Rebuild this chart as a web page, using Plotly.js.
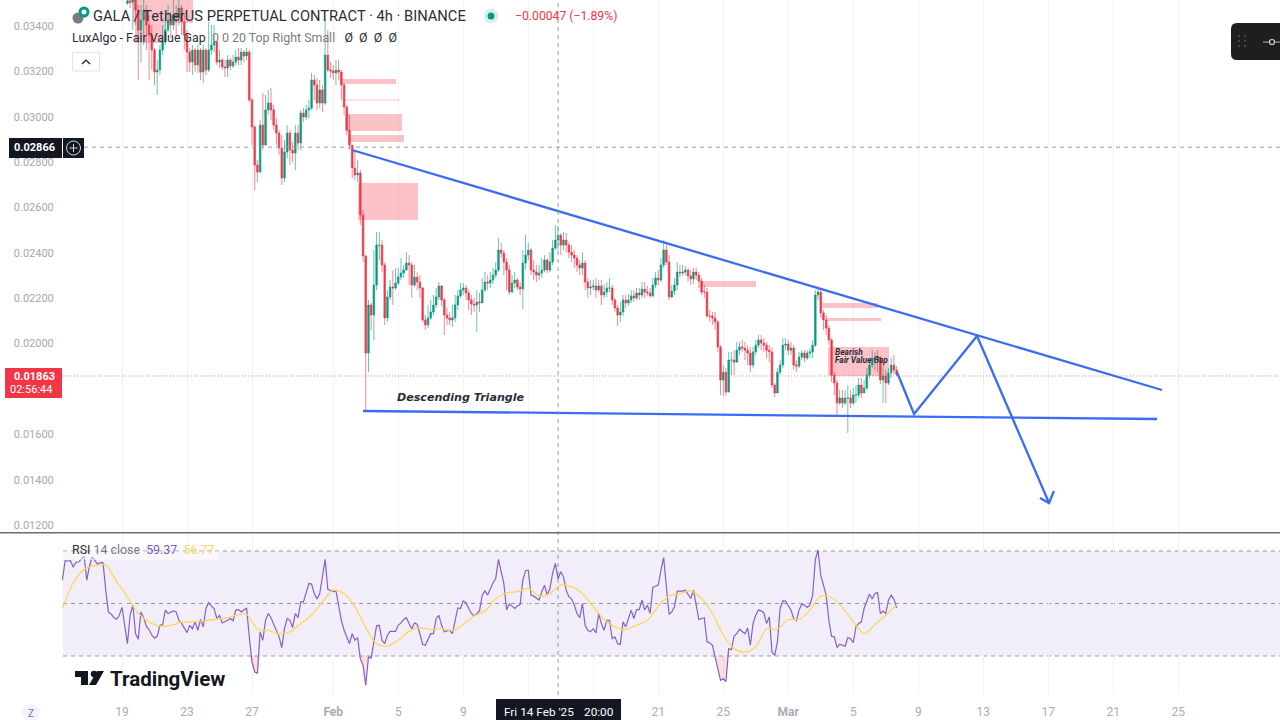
<!DOCTYPE html>
<html>
<head>
<meta charset="utf-8">
<script src="https://cdn.plot.ly/plotly-3.0.1.min.js"></script>
<style>html,body{margin:0;padding:0;background:#fff;overflow:hidden}#chart{width:1280px;height:720px}</style>
</head>
<body>
<div id="chart"></div>
<script>
// ---------- candles: 4h bars from 2025-01-19 08:00 ----------
const candleStart = '2025-01-19T08:00:00Z';
const firstOpen = 0.03500;
const closes = [0.03510,0.03506,0.03537,0.03470,0.03382,0.03426,0.03470,0.03404,0.03360,0.03294,0.03197,0.03206,0.03294,0.03329,0.03382,0.03426,0.03404,0.03448,0.03435,0.03479,0.03418,0.03360,0.03285,0.03241,0.03294,0.03228,0.03294,0.03197,0.03294,0.03206,0.03294,0.03316,0.03329,0.03241,0.03250,0.03219,0.03215,0.03250,0.03224,0.03241,0.03263,0.03250,0.03285,0.03268,0.03285,0.03074,0.02955,0.02787,0.02756,0.02963,0.02875,0.03030,0.03060,0.03030,0.02963,0.02928,0.02862,0.02730,0.02844,0.02928,0.02853,0.02840,0.02928,0.02884,0.03016,0.02999,0.03030,0.03038,0.03162,0.03140,0.03060,0.03118,0.03060,0.03272,0.03206,0.03202,0.03193,0.03206,0.03197,0.03140,0.03043,0.02941,0.02875,0.02774,0.02743,0.02752,0.02567,0.02386,0.01958,0.02170,0.02126,0.02258,0.02434,0.02434,0.02346,0.02113,0.02205,0.02249,0.02245,0.02267,0.02293,0.02311,0.02324,0.02355,0.02346,0.02258,0.02293,0.02271,0.02245,0.02104,0.02082,0.02113,0.02139,0.02170,0.02205,0.02254,0.02192,0.02126,0.02113,0.02104,0.02113,0.02170,0.02210,0.02236,0.02245,0.02223,0.02192,0.02174,0.02170,0.02183,0.02179,0.02236,0.02271,0.02267,0.02280,0.02302,0.02324,0.02412,0.02399,0.02359,0.02324,0.02227,0.02267,0.02280,0.02249,0.02240,0.02355,0.02390,0.02412,0.02324,0.02315,0.02302,0.02311,0.02324,0.02368,0.02324,0.02359,0.02421,0.02456,0.02478,0.02434,0.02456,0.02434,0.02403,0.02390,0.02377,0.02346,0.02333,0.02355,0.02271,0.02245,0.02249,0.02254,0.02236,0.02254,0.02214,0.02227,0.02245,0.02245,0.02192,0.02157,0.02126,0.02139,0.02192,0.02179,0.02192,0.02210,0.02201,0.02223,0.02214,0.02240,0.02227,0.02223,0.02210,0.02258,0.02289,0.02280,0.02346,0.02412,0.02359,0.02205,0.02232,0.02258,0.02315,0.02311,0.02315,0.02324,0.02298,0.02285,0.02315,0.02302,0.02276,0.02227,0.02227,0.02121,0.02121,0.02113,0.02095,0.01985,0.01839,0.01874,0.01786,0.01927,0.01927,0.01918,0.01971,0.01985,0.01980,0.01971,0.01958,0.01905,0.01963,0.01993,0.02016,0.02002,0.01993,0.01971,0.01963,0.01817,0.01782,0.01874,0.01905,0.01993,0.01998,0.01971,0.01980,0.01905,0.01901,0.01941,0.01958,0.01936,0.01958,0.01963,0.01993,0.02214,0.02227,0.02135,0.02104,0.02068,0.02016,0.01861,0.01826,0.01738,0.01760,0.01738,0.01760,0.01760,0.01738,0.01773,0.01773,0.01817,0.01782,0.01804,0.01861,0.01905,0.01936,0.01927,0.01941,0.01839,0.01857,0.01826,0.01870,0.01905,0.01883,0.01863];
const highs = [0.03537,0.03550,0.03568,0.03528,0.03493,0.03493,0.03528,0.03493,0.03448,0.03404,0.03303,0.03250,0.03316,0.03404,0.03448,0.03493,0.03462,0.03515,0.03493,0.03528,0.03493,0.03448,0.03382,0.03303,0.03316,0.03303,0.03316,0.03303,0.03316,0.03303,0.03418,0.03404,0.03404,0.03316,0.03294,0.03259,0.03250,0.03272,0.03259,0.03272,0.03294,0.03303,0.03303,0.03294,0.03303,0.03294,0.03082,0.02963,0.02809,0.02986,0.03105,0.03096,0.03118,0.03127,0.03052,0.02994,0.02941,0.02919,0.02897,0.02963,0.02941,0.02888,0.02963,0.02963,0.03030,0.03038,0.03052,0.03074,0.03193,0.03184,0.03171,0.03162,0.03140,0.03435,0.03382,0.03241,0.03228,0.03250,0.03250,0.03206,0.03149,0.03052,0.03008,0.02875,0.02853,0.02809,0.02765,0.02589,0.02390,0.02192,0.02179,0.02412,0.02492,0.02492,0.02456,0.02359,0.02236,0.02280,0.02324,0.02333,0.02333,0.02377,0.02346,0.02403,0.02390,0.02359,0.02346,0.02315,0.02302,0.02249,0.02126,0.02170,0.02192,0.02214,0.02245,0.02271,0.02258,0.02201,0.02157,0.02139,0.02170,0.02214,0.02236,0.02267,0.02267,0.02258,0.02236,0.02214,0.02201,0.02236,0.02223,0.02289,0.02315,0.02302,0.02315,0.02333,0.02359,0.02465,0.02443,0.02412,0.02377,0.02346,0.02302,0.02315,0.02289,0.02271,0.02412,0.02478,0.02443,0.02421,0.02368,0.02346,0.02346,0.02377,0.02390,0.02377,0.02403,0.02456,0.02523,0.02518,0.02487,0.02492,0.02487,0.02447,0.02434,0.02412,0.02390,0.02368,0.02403,0.02368,0.02289,0.02280,0.02280,0.02289,0.02280,0.02280,0.02262,0.02271,0.02289,0.02258,0.02201,0.02170,0.02183,0.02214,0.02214,0.02218,0.02236,0.02236,0.02245,0.02245,0.02271,0.02271,0.02254,0.02245,0.02289,0.02315,0.02324,0.02377,0.02456,0.02434,0.02390,0.02258,0.02289,0.02359,0.02346,0.02346,0.02342,0.02333,0.02324,0.02333,0.02333,0.02315,0.02289,0.02258,0.02245,0.02148,0.02139,0.02139,0.02104,0.01993,0.01905,0.01892,0.01963,0.01963,0.01971,0.02007,0.02007,0.02016,0.02007,0.01993,0.01985,0.01985,0.02016,0.02038,0.02038,0.02024,0.02007,0.01993,0.01985,0.01826,0.01892,0.01927,0.02024,0.02024,0.02016,0.02007,0.01993,0.01927,0.01963,0.01971,0.01971,0.01971,0.01980,0.02016,0.02236,0.02249,0.02236,0.02148,0.02126,0.02082,0.02024,0.01874,0.01839,0.01795,0.01795,0.01795,0.01817,0.01795,0.01804,0.01817,0.01848,0.01848,0.01839,0.01892,0.01936,0.01971,0.01963,0.01971,0.01936,0.01905,0.01883,0.01892,0.01936,0.01949,0.01901];
const lows = [0.03493,0.03479,0.03382,0.03404,0.03162,0.03237,0.03316,0.03294,0.03162,0.03206,0.03140,0.03096,0.03184,0.03272,0.03316,0.03373,0.03347,0.03382,0.03360,0.03404,0.03360,0.03294,0.03197,0.03197,0.03184,0.03197,0.03193,0.03162,0.03149,0.03184,0.03197,0.03272,0.03285,0.03228,0.03215,0.03206,0.03175,0.03175,0.03206,0.03215,0.03228,0.03228,0.03228,0.03241,0.03250,0.03065,0.02875,0.02677,0.02712,0.02752,0.02853,0.02875,0.03008,0.02986,0.02941,0.02875,0.02831,0.02699,0.02712,0.02818,0.02787,0.02800,0.02765,0.02853,0.02853,0.02977,0.02986,0.02994,0.03030,0.03074,0.03030,0.03038,0.03021,0.03052,0.03197,0.03171,0.03162,0.03140,0.03162,0.03074,0.03008,0.02919,0.02853,0.02730,0.02721,0.02712,0.02523,0.02359,0.01702,0.01874,0.02060,0.02016,0.02236,0.02368,0.02315,0.02082,0.02095,0.02192,0.02170,0.02236,0.02258,0.02280,0.02289,0.02324,0.02258,0.02201,0.02249,0.02236,0.02201,0.02095,0.02060,0.02068,0.02104,0.02126,0.02157,0.02192,0.02166,0.02038,0.02082,0.02082,0.02073,0.02095,0.02148,0.02201,0.02214,0.02192,0.02148,0.02126,0.02139,0.02051,0.02139,0.02183,0.02227,0.02236,0.02245,0.02262,0.02289,0.02315,0.02377,0.02302,0.02236,0.02214,0.02223,0.02245,0.02236,0.02214,0.02152,0.02324,0.02368,0.02302,0.02280,0.02271,0.02280,0.02289,0.02315,0.02311,0.02315,0.02346,0.02412,0.02412,0.02390,0.02412,0.02403,0.02377,0.02359,0.02333,0.02315,0.02302,0.02302,0.02236,0.02201,0.02214,0.02236,0.02201,0.02227,0.02170,0.02201,0.02205,0.02227,0.02170,0.02139,0.02077,0.02095,0.02121,0.02157,0.02166,0.02179,0.02183,0.02192,0.02192,0.02201,0.02201,0.02210,0.02201,0.02205,0.02245,0.02258,0.02271,0.02333,0.02346,0.02192,0.02201,0.02214,0.02236,0.02293,0.02298,0.02302,0.02271,0.02258,0.02262,0.02280,0.02245,0.02214,0.02201,0.02113,0.02095,0.02082,0.02060,0.01963,0.01773,0.01769,0.01769,0.01786,0.01861,0.01861,0.01936,0.01949,0.01963,0.01927,0.01905,0.01874,0.01892,0.01949,0.01980,0.01971,0.01963,0.01936,0.01918,0.01804,0.01764,0.01782,0.01861,0.01892,0.01971,0.01949,0.01949,0.01883,0.01874,0.01892,0.01927,0.01918,0.01927,0.01936,0.01936,0.01985,0.02192,0.02113,0.02060,0.02038,0.01993,0.01830,0.01773,0.01676,0.01729,0.01716,0.01729,0.01606,0.01716,0.01729,0.01738,0.01760,0.01760,0.01782,0.01795,0.01848,0.01892,0.01883,0.01874,0.01821,0.01738,0.01738,0.01817,0.01848,0.01866,0.01857];

// ---------- RSI(14) on the same 4h bars, from 2025-01-15 08:00 ----------
const rsiStart = '2025-01-15T08:00:00Z';
const rsiValues = [58.9,66.3,66.2,66.3,63.8,65.7,65.8,66.8,68.1,58.9,64.3,67.8,66.2,64.9,65.7,65.5,55.1,46.7,46.0,44.6,44.0,45.5,48.5,42.4,34.7,45.5,49.4,38.5,36.4,46.8,44.6,41.3,40.0,37.9,36.9,37.5,41.7,42.0,47.5,46.2,46.6,47.2,46.8,43.6,42.4,40.4,38.9,41.7,40.4,43.0,39.8,43.9,41.1,48.1,50.3,49.0,48.1,44.3,45.5,42.6,43.0,43.6,44.3,43.4,47.5,47.7,46.8,47.5,48.3,37.3,27.7,23.9,23.5,39.2,36.0,43.6,46.2,44.6,42.1,40.0,37.3,33.2,40.4,44.3,43.6,40.8,46.2,44.6,50.6,50.6,53.8,57.6,57.4,53.8,51.7,53.8,60.2,66.8,55.4,54.8,54.5,54.8,49.4,43.6,39.8,37.3,34.7,38.5,36.0,37.0,29.0,26.4,18.8,29.6,29.2,35.4,41.5,41.7,36.0,34.7,37.9,39.4,39.4,39.4,41.7,42.6,43.9,44.6,42.4,40.4,42.6,42.1,38.3,34.5,34.1,36.6,38.5,38.5,44.3,45.5,41.7,39.2,39.6,39.8,38.5,43.6,48.3,48.1,51.0,50.3,48.5,46.2,45.3,46.2,47.2,53.2,54.8,53.2,55.7,57.9,59.6,66.8,62.1,57.6,47.5,49.8,49.0,48.1,49.1,49.7,58.9,62.5,62.7,53.2,52.8,51.9,51.3,54.5,57.0,53.2,55.7,61.5,65.3,59.4,62.1,60.2,55.1,52.6,51.7,49.4,46.2,44.6,50.0,41.7,39.8,39.2,40.4,38.8,46.2,42.4,39.8,43.6,43.6,36.6,37.3,34.7,34.5,43.0,41.1,44.3,47.5,44.3,47.7,47.7,51.3,47.5,49.4,46.2,56.1,56.6,57.0,62.7,67.5,56.4,45.9,46.8,48.7,54.7,54.7,54.7,55.1,53.6,51.9,55.1,48.7,43.9,44.3,44.6,35.4,35.0,34.1,29.6,24.5,20.7,21.3,20.3,32.8,32.4,37.6,38.5,40.2,39.2,38.5,40.7,34.1,42.4,45.5,47.5,47.2,46.4,42.4,44.9,31.5,30.2,35.4,48.1,51.0,50.9,49.4,47.5,44.3,43.4,47.5,49.7,49.4,48.5,49.4,53.2,66.6,70.4,60.8,57.0,53.2,43.6,37.5,37.3,33.2,34.5,34.1,33.7,37.0,36.6,35.1,41.1,42.4,43.0,48.1,51.0,53.6,51.7,53.8,54.2,46.2,47.1,46.2,51.3,53.2,51.7,48.3];
// RSI moving average, read every 4th bar
const rsiMaValues = [48.1,57.9,63.0,64.5,64.6,58.3,52.6,46.2,43.0,41.3,41.7,42.9,43.0,43.4,43.9,44.4,45.5,45.9,40.3,39.8,38.5,39.2,42.4,45.5,50.6,55.1,53.8,48.7,40.8,34.7,33.8,36.0,39.5,40.7,40.1,40.4,39.7,42.0,45.2,47.1,51.7,54.1,54.5,55.7,52.9,53.8,57.0,56.4,53.8,48.7,43.9,41.1,40.1,41.7,43.6,49.0,52.9,53.8,54.8,51.9,46.2,37.9,32.8,31.5,33.4,40.4,40.2,43.9,43.9,47.5,52.8,52.3,48.5,43.0,38.5,42.0,45.5,49.4];
const rsiLevels = [70, 50, 30];

// ---------- axis labels (13, 17 and 0.01800 sit behind the cursor and price labels) ----------
const priceTicks = [0.012,0.014,0.016,0.018,0.020,0.022,0.024,0.026,0.028,0.030,0.032,0.034];
const priceTickLabels = ['0.01200','0.01400','0.01600','','0.02000','0.02200','0.02400','0.02600','0.02800','0.03000','0.03200','0.03400'];
const dateTicks = ['2025-01-19','2025-01-23','2025-01-27','2025-02-01','2025-02-05','2025-02-09','2025-02-13','2025-02-17','2025-02-21','2025-02-25','2025-03-01','2025-03-05','2025-03-09','2025-03-13','2025-03-17','2025-03-21','2025-03-25'];
const dateTickLabels = ['19','23','27','<b>Feb</b>','5','9','','','21','25','<b>Mar</b>','5','9','13','17','21','25'];

// ---------- Fair Value Gap zones ----------
const fvgFrom = ['2025-01-19T07:23','2025-01-19T16:15','2025-01-19T19:12','2025-02-01T09:58','2025-02-01T17:21','2025-02-01T17:21','2025-02-01T21:47','2025-02-02T12:33','2025-02-23T13:41','2025-03-03T01:51','2025-03-03T07:45','2025-03-03T10:42'];
const fvgTo = ['2025-01-23T08:51','2025-01-23T08:51','2025-01-21T15:30','2025-02-04T20:41','2025-02-05T01:06','2025-02-05T05:31','2025-02-05T08:30','2025-02-06T05:10','2025-02-27T00:22','2025-03-06T12:33','2025-03-06T16:59','2025-03-07T04:48'];
const fvgTop = [0.03515,0.03499,0.03413,0.03166,0.03076,0.03012,0.02919,0.02708,0.02276,0.02179,0.02113,0.01985];
const fvgBottom = [0.03499,0.03413,0.03325,0.03144,0.03071,0.02937,0.02889,0.02545,0.02249,0.02157,0.02099,0.01857];

// ---------- drawn lines ----------
const upperLineT = ['2025-02-02T03:42','2025-03-24T00:00'];
const upperLineP = [0.028533,0.017952];
const lowerLineT = ['2025-02-02T19:55','2025-03-23T16:37'];
const lowerLineP = [0.017026,0.016674];
const pathT = ['2025-03-07T16:34','2025-03-08T17:46','2025-03-12T14:46','2025-03-17T01:12'];
const pathP = [0.018746,0.016894,0.020333,0.012970];
const arrowT = ['2025-03-16T11:46','2025-03-17T01:12','2025-03-17T08:24'];
const arrowP = [0.013190,0.012970,0.013500];

const lastPriceLine = 0.01857, cursorPrice = 0.02866, cursorTime = '2025-02-14T20:00';

// ---------- helpers ----------
const series = (start, hours, n) => Array.from({length:n}, (_,i) =>
  new Date(Date.parse(start) + i*hours*3600e3).toISOString().slice(0,16));
const W = 1218, H = 695, L = 62;
const X = px => (px - L) / W, Y = py => 1 - py / H;
const opens = closes.map((c,i) => i ? closes[i-1] : firstOpen);
const rsiTimes = series(rsiStart,4,rsiValues.length);

const traces = [
 {type:'scatter', mode:'lines', x:rsiTimes, y:rsiValues.map(()=>rsiLevels[2]), xaxis:'x', yaxis:'y2', line:{width:0}, hoverinfo:'skip'},
 {type:'scatter', mode:'lines', x:rsiTimes, y:rsiValues.map(v=>Math.min(v,rsiLevels[2])), xaxis:'x', yaxis:'y2', line:{width:0}, fill:'tonexty', fillcolor:'rgba(242,54,69,0.16)', hoverinfo:'skip'},
 {type:'candlestick', x:series(candleStart,4,closes.length), open:opens, high:highs, low:lows, close:closes,
  increasing:{line:{color:'rgba(8,153,129,0.6)',width:1}, fillcolor:'#089981'},
  decreasing:{line:{color:'rgba(242,54,69,0.6)',width:1}, fillcolor:'#f23645'},
  whiskerwidth:0, xaxis:'x', yaxis:'y', hoverinfo:'skip'},
 ...[[upperLineT,upperLineP],[lowerLineT,lowerLineP],[pathT,pathP],[arrowT,arrowP]].map(([t,p]) => (
   {type:'scatter', mode:'lines', x:t, y:p, xaxis:'x', yaxis:'y', line:{color:'#3a6cf4',width:2.3}, hoverinfo:'skip'})),
 {type:'scatter', mode:'lines', x:rsiTimes, y:rsiValues, xaxis:'x', yaxis:'y2', line:{color:'#8560c8',width:1.2}, hoverinfo:'skip'},
 {type:'scatter', mode:'lines', x:series(rsiStart,16,rsiMaValues.length), y:rsiMaValues, xaxis:'x', yaxis:'y2', line:{color:'#fdd65a',width:1.3,shape:'spline',smoothing:0.8}, hoverinfo:'skip'}
];

const pxRect = (x0,y0,x1,y1,fill,extra) => Object.assign({type:'rect',xref:'paper',yref:'paper',x0:X(x0),x1:X(x1),y0:Y(y0),y1:Y(y1),fillcolor:fill,line:{width:0},layer:'above'},extra||{});
const pxCircle = (cx,cy,r,fill,lineColor,lw) => ({type:'circle',xref:'paper',yref:'paper',x0:X(cx-r),x1:X(cx+r),y0:Y(cy-r),y1:Y(cy+r),fillcolor:fill,line:{color:lineColor||fill,width:lw||0},layer:'above'});
const pxPath = (pts,fill,lineColor,lw) => ({type:'path',xref:'paper',yref:'paper',
  path:pts.map((p,i)=>(i?'L':'M')+X(p[0])+','+Y(p[1])).join(' ')+(fill!=='none'?' Z':''),
  fillcolor:fill==='none'?'rgba(0,0,0,0)':fill,line:{color:lineColor||'rgba(0,0,0,0)',width:lw||0},layer:'above'});

const shapes = [
 // FVG zones
 ...fvgFrom.map((f,i)=>({type:'rect',xref:'x',yref:'y',x0:f,x1:fvgTo[i],y0:fvgBottom[i],y1:fvgTop[i],fillcolor:'rgba(242,54,69,0.3)',line:{width:0},layer:'between'})),
 // RSI band + levels
 {type:'rect',xref:'paper',yref:'y2',x0:X(63),x1:1,y0:rsiLevels[2],y1:rsiLevels[0],fillcolor:'rgba(126,87,194,0.1)',line:{width:0},layer:'between'},
 ...rsiLevels.map(v=>({type:'line',xref:'paper',yref:'y2',x0:X(63),x1:1,y0:v,y1:v,line:{color:'#9598a1',width:1,dash:'4px,4px'},layer:'between'})),
 // last price & cursor lines
 {type:'line',xref:'paper',yref:'y',x0:0,x1:1,y0:lastPriceLine,y1:lastPriceLine,line:{color:'rgba(242,54,69,0.6)',width:1,dash:'1px,2px'},layer:'above'},
 {type:'line',xref:'paper',yref:'y',x0:X(84),x1:1,y0:cursorPrice,y1:cursorPrice,line:{color:'#9598a1',width:1,dash:'4px,4px'},layer:'above'},
 {type:'line',xref:'x',yref:'paper',x0:cursorTime,x1:cursorTime,y0:0,y1:1,line:{color:'#9598a1',width:1,dash:'4px,4px'},layer:'above'},
 // pane separator
 pxRect(0,532,1280,533.5,'#6a6d78'),
 // legend backdrop in RSI pane
 pxRect(63,551,219,560,'rgba(255,255,255,0.5)'),
 // price label boxes
 pxRect(9,138,62,158,'#131722'),
 pxRect(63,138,84,158,'#131722'),
 pxCircle(73.5,148,7,'rgba(0,0,0,0)','#d1d4dc',1),
 pxPath([[69.5,148],[77.5,148]],'none','#d1d4dc',1),
 pxPath([[73.5,144],[73.5,152]],'none','#d1d4dc',1),
 pxRect(5,368,62,398,'#f23645'),
 // collapse button
 {type:'rect',xref:'paper',yref:'paper',x0:X(72.5),x1:X(99.5),y0:Y(52.5),y1:Y(71),fillcolor:'#fff',line:{color:'#e0e3eb',width:1},layer:'above'},
 pxPath([[82,64],[86,60],[90,64]],'none','#131722',1.2),
 // symbol icon + status dot
 pxCircle(78,18,5.5,'#787b86'),
 pxCircle(84,12,5.5,'#089981'),
 pxCircle(84,12,2.5,'#ffffff'),
 pxCircle(491,16,7.5,'rgba(8,153,129,0.15)'),
 pxCircle(491,16,3.5,'#089981'),
 // floating widget
 {type:'path',xref:'paper',yref:'paper',path:`M${X(1237)},${Y(23)} L${X(1280)},${Y(23)} L${X(1280)},${Y(60)} L${X(1237)},${Y(60)} Q${X(1231)},${Y(60)} ${X(1231)},${Y(54)} L${X(1231)},${Y(29)} Q${X(1231)},${Y(23)} ${X(1237)},${Y(23)} Z`,fillcolor:'#1e1e1e',line:{width:0},layer:'above'},
 ...[[1239,36],[1245,36],[1239,41],[1245,41],[1239,46],[1245,46]].map(p=>pxCircle(p[0],p[1],1,'#555')),
 pxPath([[1263,42],[1280,42]],'none','#b2b5be',1),
 pxCircle(1272,42,2.5,'#1e1e1e','#d1d4dc',1.2),
 // Z button
 pxCircle(31,713,9,'#f0f3fa'),
 // date label
 pxRect(496,699,621,720,'#131722'),
 // TradingView mark
 pxPath([[75,671],[88,671],[88,685],[81,685],[81,677],[75,677]],'#131722'),
 pxCircle(94,674,3.2,'#131722'),
 pxPath([[97,671],[104,671],[96,685],[89,685]],'#131722')
];

const ann = (px,py,text,size,color,opts) => Object.assign({xref:'paper',yref:'paper',x:X(px),y:Y(py),text,showarrow:false,xanchor:'left',yanchor:'middle',font:{family:'Roboto, sans-serif',size,color},align:'left'},opts||{});
const annotations = [
 ann(91,16,'GALA / TetherUS PERPETUAL CONTRACT · 4h · BINANCE',14.7,'#2a2e39'),
 ann(513,16,'−0.00047 (−1.89%)',12.2,'#f23645'),
 ann(70,38,'LuxAlgo - Fair Value Gap  <span style="color:#787b86">0 0 20 Top Right Small</span>   Ø  Ø  Ø  Ø',12.4,'#2a2e39'),
 ann(395,398,'<b><i>Descending Triangle</i></b>',11.1,'#2a2e39',{font:{family:'DejaVu Sans, sans-serif',size:11.1,color:'#2a2e39'}}),
 ann(833,352,'<i><b>Bearish</b></i>',8.4,'#2a2e39'),
 ann(833,360,'<i><b>Fair Value Gap</b></i>',8.4,'#2a2e39'),
 ann(70,549,'RSI <span style="color:#787b86">14 close</span>  <span style="color:#7e57c2">59.37</span>  <span style="color:#fdd65a">56.77</span>',12.4,'#2a2e39'),
 ann(12,148,'<b>0.02866</b>',11,'#ffffff'),
 ann(12,376,'<b>0.01863</b>',11,'#ffffff'),
 ann(8,390,'02:56:44',11,'#ffffff'),
 ann(502,712,"Fri 14 Feb '25",11.8,'#ffffff'),
 ann(582,712,'20:00',11.8,'#ffffff'),
 ann(31,713,'Z',10,'#787b86',{xanchor:'center'}),
 ann(108,679,'<b>TradingView</b>',20.5,'#131722')
];

const layout = {
 width:1280, height:720, margin:{l:L,r:0,t:0,b:25}, paper_bgcolor:'#fff', plot_bgcolor:'rgba(0,0,0,0)',
 showlegend:false, boxgap:0.14, dragmode:false, hovermode:false,
 xaxis:{type:'date',anchor:'y2',range:['2025-01-15T07:23','2025-03-31T06:17'],rangeslider:{visible:false},
   tickmode:'array',tickvals:dateTicks,ticktext:dateTickLabels,showgrid:true,gridcolor:'#f0f3fa',gridwidth:1,
   zeroline:false,showline:false,ticks:'outside',ticklen:6,tickcolor:'rgba(0,0,0,0)',
   tickfont:{family:'Roboto, sans-serif',size:12,color:'#a9acb5'},tickangle:0},
 yaxis:{domain:[1-533/H,1],anchor:'x',range:[0.011648,0.035146],tickmode:'array',tickvals:priceTicks,ticktext:priceTickLabels,
   showgrid:false,zeroline:false,showline:false,ticks:'outside',ticklen:5,tickcolor:'rgba(0,0,0,0)',
   tickfont:{family:'Roboto, sans-serif',size:11,color:'#a4a7b0'}},
 yaxis2:{domain:[0,1-534/H],anchor:'x',range:[15.14,76.48],showticklabels:false,showgrid:false,zeroline:false,showline:false,ticks:''},
 shapes, annotations
};
Plotly.newPlot('chart', traces, layout, {displayModeBar:false, staticPlot:true});
</script>
</body>
</html>
